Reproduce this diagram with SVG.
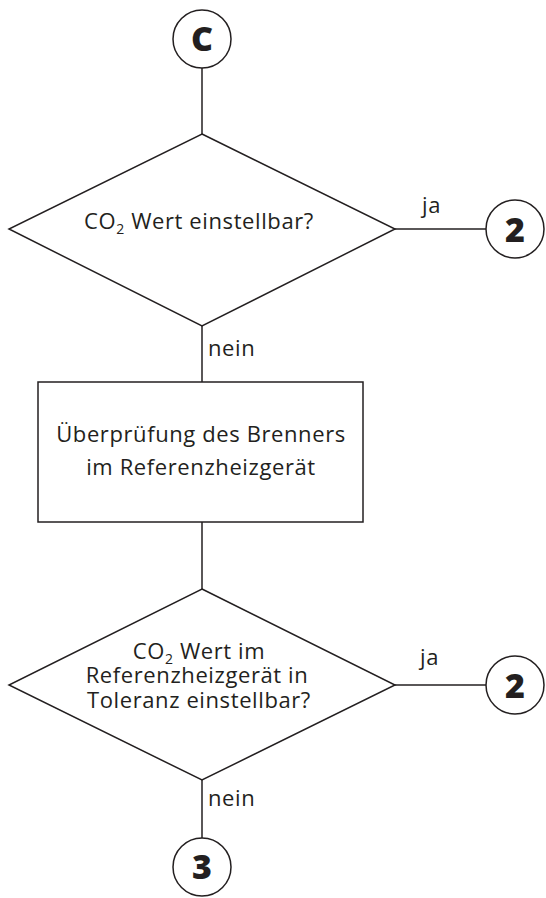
<svg xmlns="http://www.w3.org/2000/svg" width="546" height="898" viewBox="0 0 546 898">
<style>
.s{fill:none;stroke:#231f20;stroke-width:1.5}
.n{fill:#fff;stroke:#231f20;stroke-width:1.5}
.t{font-family:"Open Sans","Noto Sans",sans-serif;font-size:22px;letter-spacing:0.6px;fill:#231f20}
.c{font-family:"Open Sans","Noto Sans",sans-serif;font-size:34px;font-weight:800;fill:#231f20;text-anchor:middle}
.m{text-anchor:middle}
</style>
<rect width="546" height="898" fill="#fff"/>
<g id="connectors">
<line class="s" x1="202" y1="68" x2="202" y2="134"/>
<line class="s" x1="202" y1="326" x2="202" y2="382"/>
<line class="s" x1="395" y1="229" x2="486" y2="229"/>
<line class="s" x1="202" y1="522" x2="202" y2="589"/>
<line class="s" x1="395" y1="685" x2="486" y2="685"/>
<line class="s" x1="202" y1="780" x2="202" y2="838"/>
<text class="t" x="422" y="213">ja</text>
<text class="t" x="208" y="356">nein</text>
<text class="t" x="420" y="665">ja</text>
<text class="t" x="208" y="806">nein</text>
</g>
<g id="startC">
<circle class="n" cx="202" cy="39" r="29"/>
<text class="c" x="202" y="51">C</text>
</g>
<g id="decision1">
<polygon class="n" points="202,134 395,229 202,326 9,229"/>
<text class="t m" x="199" y="229">CO<tspan font-size="14" dy="5">2</tspan><tspan dy="-5"> Wert einstellbar?</tspan></text>
</g>
<g id="goto2a">
<circle class="n" cx="515" cy="229" r="29"/>
<text class="c" x="515" y="242">2</text>
</g>
<g id="process">
<rect class="n" x="38" y="382" width="325" height="140"/>
<text class="t m" x="201" y="442">Überprüfung des Brenners</text>
<text class="t m" x="201" y="475">im Referenzheizgerät</text>
</g>
<g id="decision2">
<polygon class="n" points="202,589 395,685 202,780 9,685"/>
<text class="t m" x="199" y="659">CO<tspan font-size="14" dy="5">2</tspan><tspan dy="-5"> Wert im</tspan></text>
<text class="t m" x="197" y="683">Referenzheizgerät in</text>
<text class="t m" x="199" y="708">Toleranz einstellbar?</text>
</g>
<g id="goto2b">
<circle class="n" cx="515" cy="685" r="29"/>
<text class="c" x="515" y="698">2</text>
</g>
<g id="goto3">
<circle class="n" cx="202" cy="867" r="29"/>
<text class="c" x="202" y="879">3</text>
</g>
</svg>
